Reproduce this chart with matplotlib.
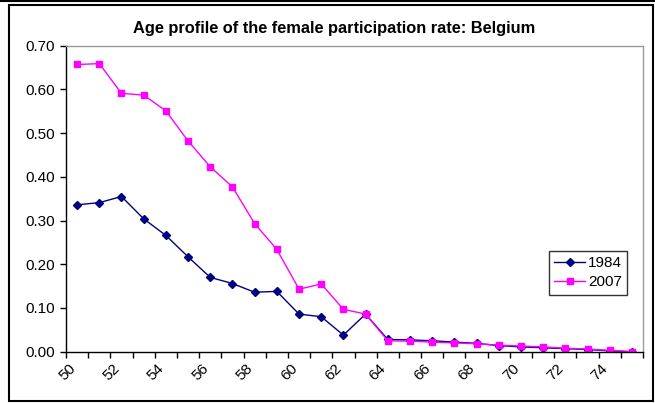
import matplotlib.pyplot as plt
from matplotlib.patches import Rectangle
from matplotlib.lines import Line2D
import numpy as np

ages = list(range(50, 76))
rate_1984 = [0.336, 0.341, 0.355, 0.304, 0.266, 0.217, 0.170, 0.156, 0.136, 0.138,
             0.086, 0.080, 0.038, 0.086, 0.028, 0.027, 0.025, 0.022, 0.019, 0.014,
             0.011, 0.009, 0.007, 0.005, 0.002, 0.000]
rate_2007 = [0.657, 0.659, 0.591, 0.587, 0.551, 0.482, 0.423, 0.377, 0.293, 0.234,
             0.143, 0.155, 0.097, 0.086, 0.025, 0.024, 0.022, 0.020, 0.018, 0.015,
             0.013, 0.011, 0.008, 0.006, 0.003, 0.000]

plt.rcParams['font.family'] = ['Liberation Sans', 'DejaVu Sans']

fig = plt.figure(figsize=(6.55, 4.03), dpi=100)
ax = fig.add_axes([66/655, 1-351.7/403, 577/655, 306/403])

x = np.arange(len(ages))
ax.plot(x, rate_1984, color='#000080', lw=1, marker='D', ms=4.5, label='1984')
ax.plot(x, rate_2007, color='#ff00ff', lw=1, marker='s', ms=5, label='2007')

ax.set_xlim(-0.5, len(ages) - 0.5)
ax.set_ylim(0, 0.7)
ax.set_yticks(np.arange(0, 0.71, 0.1))
ax.set_yticklabels(['%.2f' % v for v in np.arange(0, 0.71, 0.1)], fontsize=11)

# category axis: tick marks between categories, labels every 2 years
ax.set_xticks(np.arange(-0.5, len(ages)), minor=False)
ax.set_xticklabels([])
lab_pos = x[::2]
ax.set_xticks(lab_pos - 0.4, minor=True)
ax.set_xticklabels([str(a) for a in ages[::2]], minor=True, rotation=45,
                   ha='right', va='top', rotation_mode='anchor', fontsize=11)
ax.tick_params(axis='x', which='minor', length=0, pad=7)
ax.tick_params(axis='y', which='major', pad=4)
ax.tick_params(axis='both', which='major', length=4, width=1, direction='out', color='black')

for s in ['top', 'right']:
    ax.spines[s].set_color('#999999')
    ax.spines[s].set_linewidth(1)
for s in ['left', 'bottom']:
    ax.spines[s].set_color('black')
    ax.spines[s].set_linewidth(1)

fig.text(334/655, 1-29/403, 'Age profile of the female participation rate: Belgium',
         ha='center', va='center', fontsize=11.8, fontweight='bold')

leg = ax.legend(loc='upper left', bbox_to_anchor=(0.837, 0.33), fontsize=11,
                frameon=True, fancybox=False, handlelength=2.0, borderpad=0.35,
                labelspacing=0.35, handletextpad=0.2, borderaxespad=0)
leg.get_frame().set_edgecolor('black')
leg.get_frame().set_linewidth(1)

fig.patches.append(Rectangle((9/655, 1-401/403), 644/655, 396/403, transform=fig.transFigure,
                             fill=False, edgecolor='black', lw=1.5))
fig.lines.append(Line2D([0, 1], [1-0.5/403, 1-0.5/403], transform=fig.transFigure,
                        color='black', lw=1.5))

fig.savefig('out.png', dpi=100)
